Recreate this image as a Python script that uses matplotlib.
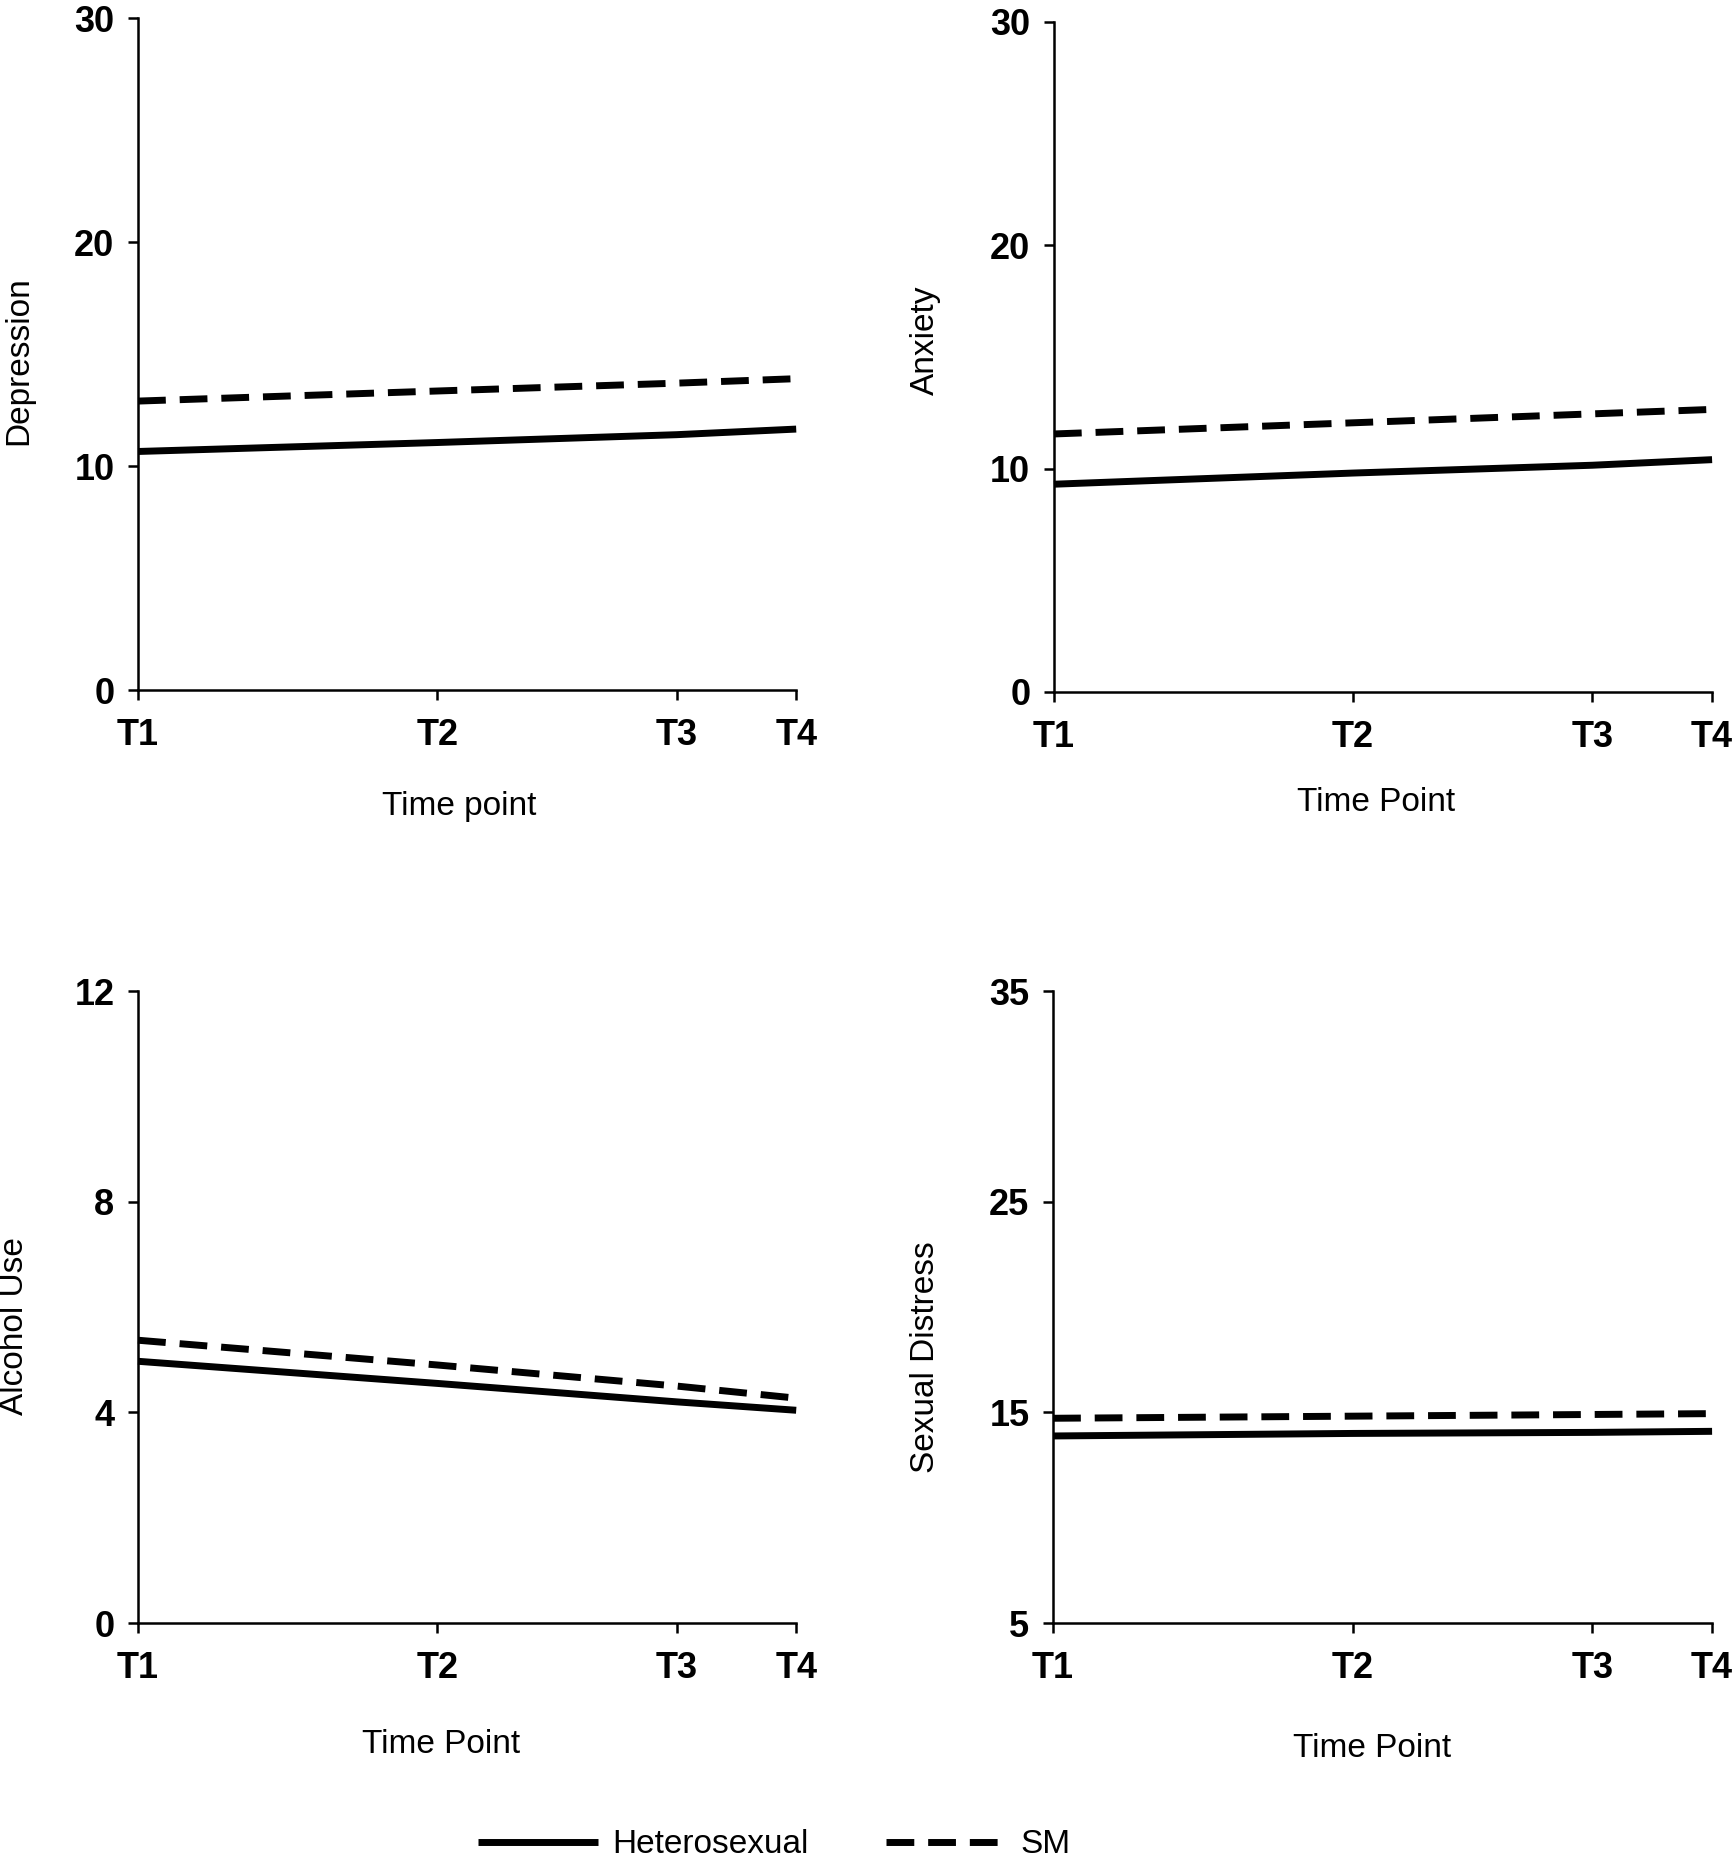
import matplotlib
matplotlib.use("Agg")
import matplotlib.pyplot as plt
from matplotlib.lines import Line2D

plt.rcParams['font.family'] = ['Liberation Sans', 'DejaVu Sans']

# time points (unevenly spaced on the x axis)
time_pos = [0, 5, 9, 11]
time_labels = ["T1", "T2", "T3", "T4"]

depression_het = [10.65, 11.05, 11.4, 11.65]
depression_sm = [12.9, 13.35, 13.7, 13.9]
anxiety_het = [9.3, 9.8, 10.15, 10.4]
anxiety_sm = [11.55, 12.05, 12.45, 12.65]
alcohol_het = [4.97, 4.55, 4.2, 4.04]
alcohol_sm = [5.37, 4.9, 4.5, 4.27]
distress_het = [13.88, 14.0, 14.05, 14.1]
distress_sm = [14.72, 14.82, 14.9, 14.94]

panels = [
    # ylabel, xlabel, het, sm, yticks, rect, ylabel coords, xlabel coords
    ("Depression", "Time point", depression_het, depression_sm, [0, 10, 20, 30],
     [0.0797, 0.6284, 0.380, 0.3619], (-0.182, 0.49), (0.488, -0.174)),
    ("Anxiety", "Time Point", anxiety_het, anxiety_sm, [0, 10, 20, 30],
     [0.6085, 0.6274, 0.380, 0.3608], (-0.195, 0.525), (0.489, -0.165)),
    ("Alcohol Use", "Time Point", alcohol_het, alcohol_sm, [0, 4, 8, 12],
     [0.0797, 0.1260, 0.380, 0.3403], (-0.188, 0.47), (0.46, -0.192)),
    ("Sexual Distress", "Time Point", distress_het, distress_sm, [5, 15, 25, 35],
     [0.6080, 0.1260, 0.3805, 0.3403], (-0.193, 0.42), (0.484, -0.199)),
]

fig = plt.figure(figsize=(17.32, 18.57), dpi=100)

lw = 5
dash = (4, 2)

for ylab, xlab, het, sm, yt, rect, ylc, xlc in panels:
    ax = fig.add_axes(rect)
    ax.plot(time_pos, het, color="black", lw=lw, solid_capstyle="butt", clip_on=False)
    ax.plot(time_pos, sm, color="black", lw=lw, linestyle=(0, dash),
            dash_capstyle="butt", clip_on=False)
    ax.set_xlim(time_pos[0], time_pos[-1])
    ax.set_ylim(yt[0], yt[-1])
    ax.set_xticks(time_pos)
    ax.set_xticklabels(time_labels)
    ax.set_yticks(yt)
    ax.spines["top"].set_visible(False)
    ax.spines["right"].set_visible(False)
    for s in ("left", "bottom"):
        ax.spines[s].set_linewidth(1.8)
    ax.tick_params(width=1.8, length=7, labelsize=26)
    ax.tick_params(axis="x", pad=13)
    ax.tick_params(axis="y", pad=10)
    for t in ax.get_xticklabels() + ax.get_yticklabels():
        t.set_fontweight("bold")
    ax.set_ylabel(ylab, fontsize=24, va="center")
    ax.set_xlabel(xlab, fontsize=24, va="center")
    ax.yaxis.set_label_coords(*ylc)
    ax.xaxis.set_label_coords(*xlc)

handles = [
    Line2D([], [], color="black", lw=lw, solid_capstyle="butt"),
    Line2D([], [], color="black", lw=lw, linestyle=(0, dash), dash_capstyle="butt"),
]
fig.legend(handles, ["Heterosexual", "SM"], loc="lower center",
           bbox_to_anchor=(0.447, -0.018), ncol=2, frameon=False, fontsize=24,
           handlelength=3.6, handletextpad=0.45, columnspacing=2.3)

fig.savefig("out.png", dpi=100)
